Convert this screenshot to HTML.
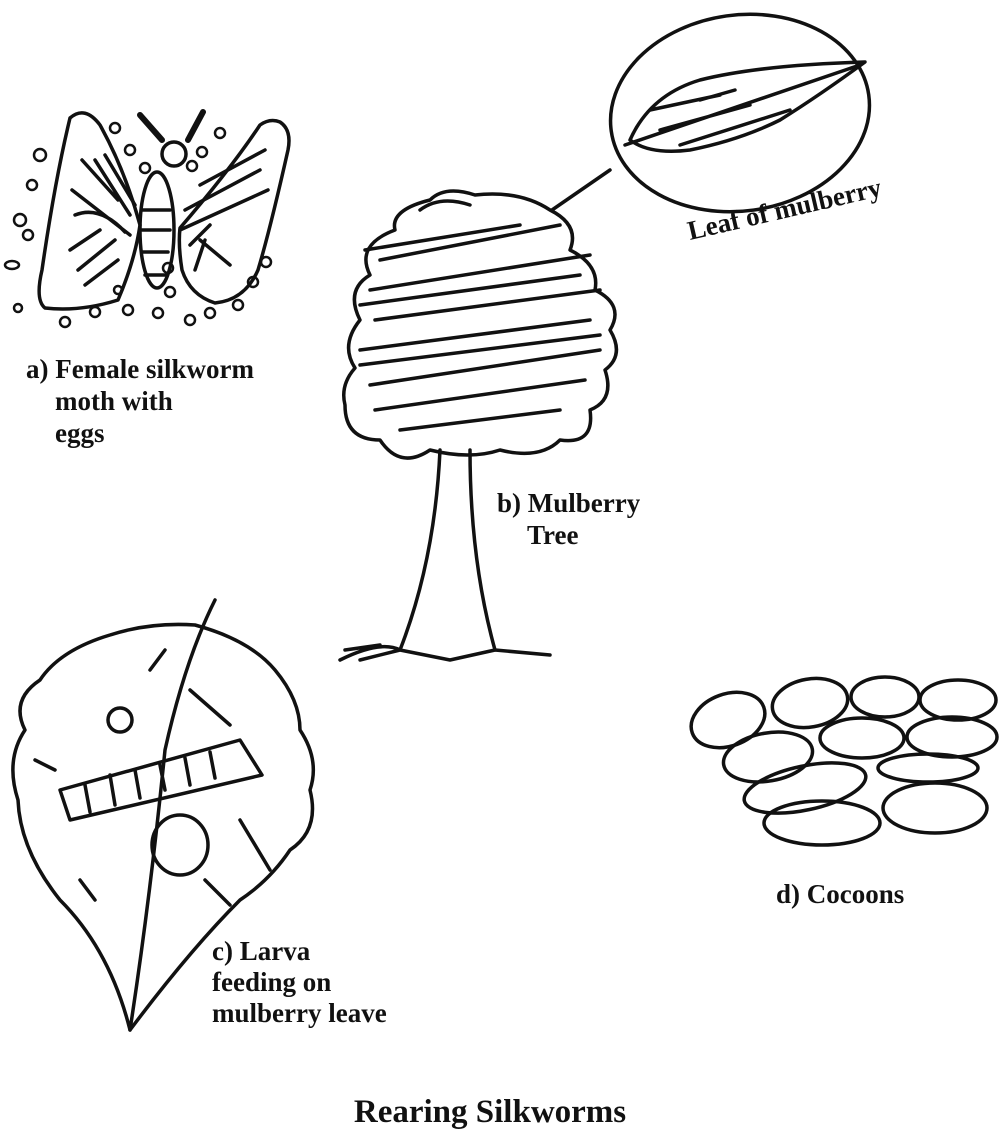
<!DOCTYPE html>
<html><head><meta charset="utf-8"><style>
html,body{margin:0;padding:0;background:#fff}
svg{display:block}
text{font-family:"Liberation Serif",serif;font-weight:bold;fill:#111}
</style></head><body>
<svg width="1000" height="1132" viewBox="0 0 1000 1132" xmlns="http://www.w3.org/2000/svg">
<g fill="none" stroke="#111" stroke-width="3.5" stroke-linecap="round" stroke-linejoin="round">
<!-- moth -->
<path d="M70 118 Q85 105 100 125 Q125 170 140 225 Q135 260 118 300 Q80 312 45 308 Q35 300 42 270 Q55 180 70 118Z"/>
<path d="M280 122 Q292 130 288 150 Q270 230 258 270 Q245 300 215 303 Q190 295 182 270 Q178 245 180 228 Q230 170 260 125 Q270 118 280 122Z"/>
<ellipse cx="157" cy="230" rx="17" ry="58"/>
<circle cx="174" cy="154" r="12"/>
<path d="M140 115 L162 140 M203 112 L188 140" stroke-width="6"/>
<path d="M82 160 L118 200 M95 160 L130 215 M105 155 L135 205 M72 190 L130 235 M70 250 L100 230 M78 270 L115 240 M85 285 L118 260 M200 185 L265 150 M185 210 L260 170 M180 230 L268 190 M190 245 L210 225 M195 270 L205 240 M75 215 Q100 205 125 232 M200 240 L230 265 M142 210 L170 210 M142 230 L170 230 M142 252 L168 252 M145 275 L165 275"/>
<g stroke-width="2.5">
<circle cx="40" cy="155" r="6"/><circle cx="32" cy="185" r="5"/><circle cx="20" cy="220" r="6"/><circle cx="28" cy="235" r="5"/><ellipse cx="12" cy="265" rx="7" ry="4"/><circle cx="18" cy="308" r="4"/><circle cx="65" cy="322" r="5"/><circle cx="95" cy="312" r="5"/><circle cx="128" cy="310" r="5"/><circle cx="158" cy="313" r="5"/><circle cx="190" cy="320" r="5"/><circle cx="210" cy="313" r="5"/><circle cx="238" cy="305" r="5"/><circle cx="253" cy="282" r="5"/><circle cx="266" cy="262" r="5"/><circle cx="115" cy="128" r="5"/><circle cx="130" cy="150" r="5"/><circle cx="145" cy="168" r="5"/><circle cx="220" cy="133" r="5"/><circle cx="202" cy="152" r="5"/><circle cx="192" cy="166" r="5"/><circle cx="168" cy="268" r="5"/><circle cx="170" cy="292" r="5"/><circle cx="118" cy="290" r="4"/>
</g>
<!-- tree -->
<path d="M430 450 Q400 470 380 440 Q345 440 345 405 Q340 385 355 368 Q340 345 360 320 Q345 290 370 275 Q355 245 395 230 Q390 210 430 200 Q445 185 475 195 Q520 190 550 210 Q580 225 570 250 Q600 265 595 290 Q625 305 610 330 Q625 355 605 370 Q615 400 590 410 Q595 445 560 440 Q540 460 500 450 Q470 460 430 450Z"/>
<path d="M440 450 Q435 560 400 650 M470 450 Q470 560 495 650 M340 660 Q380 640 400 650 M360 660 L400 650 L450 660 L495 650 L550 655 M345 650 L380 645"/>
<path d="M380 260 L560 225 M370 290 L590 255 M375 320 L600 290 M360 350 L590 320 M370 385 L600 350 M375 410 L585 380 M400 430 L560 410 M360 305 L580 275 M420 210 Q440 195 470 205 M365 250 L520 225 M360 365 L600 335"/>
<path d="M552 210 L610 170"/>
<!-- leaf ellipse -->
<ellipse cx="740" cy="113" rx="130" ry="98" transform="rotate(-8 740 113)"/>
<path d="M630 140 Q650 95 700 80 Q760 65 865 62 Q820 95 780 120 Q740 140 690 150 Q650 155 630 140Z"/>
<path d="M625 145 L860 65 M650 110 L720 95 M660 130 L750 105 M680 145 L790 110 M700 100 L735 90"/>
<!-- big leaf -->
<path d="M130 1030 Q110 950 60 900 Q20 850 18 800 Q5 760 25 730 Q10 700 40 680 Q60 650 110 635 Q150 622 195 625 Q250 640 275 670 Q300 700 300 730 Q320 760 310 790 Q320 830 290 850 Q270 880 240 900 Q190 950 130 1030Z"/>
<path d="M130 1030 Q150 900 165 750 Q185 660 215 600"/>
<path d="M60 790 L240 740 L262 775 L70 820Z M85 785 L90 812 M110 775 L115 805 M135 770 L140 798 M160 765 L165 790 M185 758 L190 785 M210 752 L215 778"/>
<circle cx="120" cy="720" r="12"/>
<ellipse cx="180" cy="845" rx="28" ry="30"/>
<path d="M150 670 L165 650 M190 690 L230 725 M240 820 L270 870 M35 760 L55 770 M80 880 L95 900 M205 880 L230 905"/>
<!-- cocoons -->
<ellipse cx="728" cy="720" rx="38" ry="26" transform="rotate(-20 728 720)"/>
<ellipse cx="810" cy="703" rx="38" ry="24" transform="rotate(-10 810 703)"/>
<ellipse cx="885" cy="697" rx="34" ry="20"/>
<ellipse cx="958" cy="700" rx="38" ry="20"/>
<ellipse cx="768" cy="757" rx="45" ry="24" transform="rotate(-10 768 757)"/>
<ellipse cx="862" cy="738" rx="42" ry="20"/>
<ellipse cx="952" cy="737" rx="45" ry="20"/>
<ellipse cx="805" cy="788" rx="62" ry="22" transform="rotate(-12 805 788)"/>
<ellipse cx="928" cy="768" rx="50" ry="14"/>
<ellipse cx="822" cy="823" rx="58" ry="22"/>
<ellipse cx="935" cy="808" rx="52" ry="25"/>
</g>
<g font-size="27">
<text x="26" y="378">a) Female silkworm</text>
<text x="55" y="410">moth with</text>
<text x="55" y="442">eggs</text>
<text x="690" y="240" transform="rotate(-13 690 240)">Leaf of mulberry</text>
<text x="497" y="512">b) Mulberry</text>
<text x="527" y="544">Tree</text>
<text x="212" y="960">c) Larva</text>
<text x="212" y="991">feeding on</text>
<text x="212" y="1022">mulberry leave</text>
<text x="776" y="903">d) Cocoons</text>
</g>
<text x="490" y="1122" font-size="33" text-anchor="middle">Rearing Silkworms</text>
</svg>
</body></html>
